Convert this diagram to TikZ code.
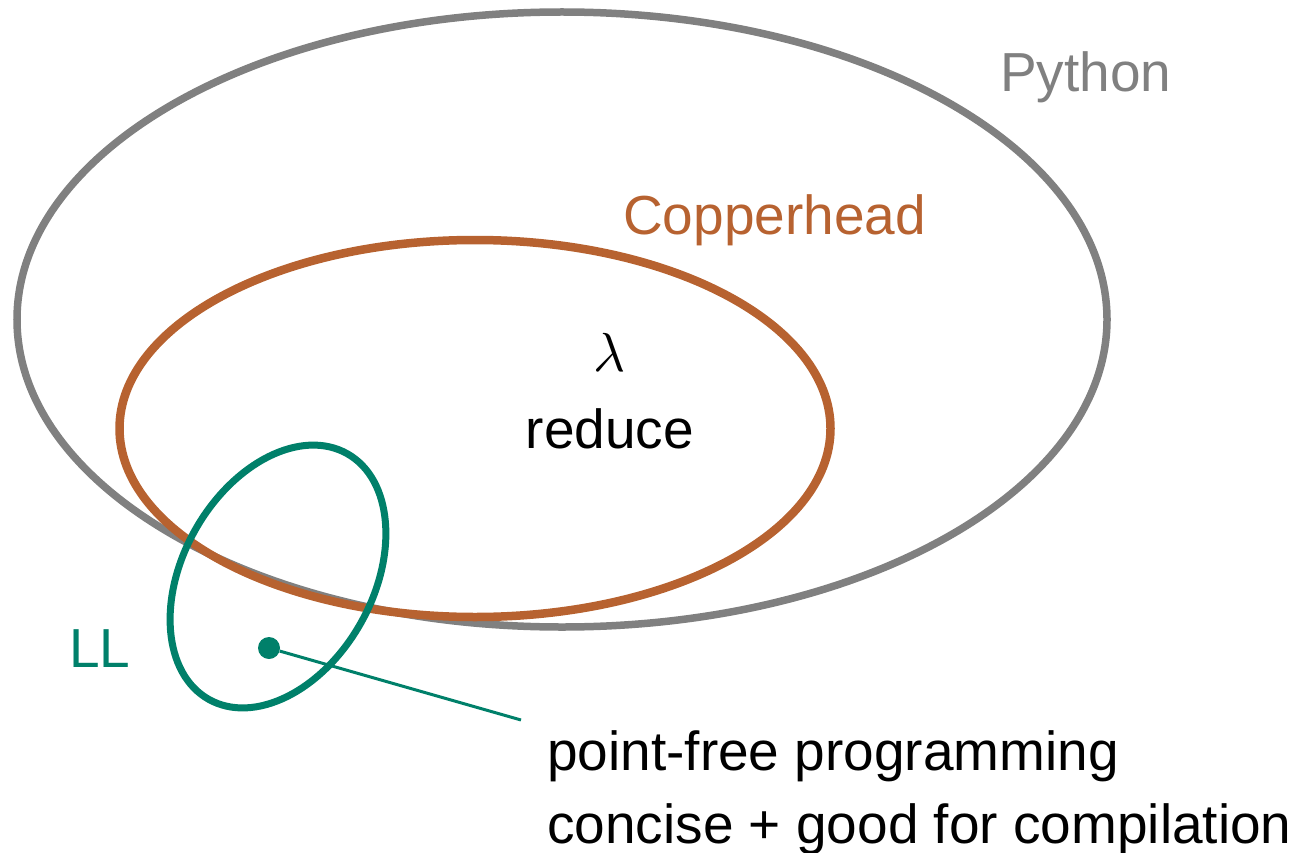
\documentclass[tikz,border=0pt]{standalone}
\usepackage{graphicx}
\usepackage{fontspec}
\setmainfont{Liberation Sans}
\definecolor{pygray}{RGB}{128,128,128}
\definecolor{copper}{RGB}{183,98,48}
\definecolor{llteal}{RGB}{0,128,106}
\begin{document}
\begin{tikzpicture}[x=1pt,y=-1pt,
  lbl/.style={inner sep=0pt, font=\fontsize{55}{60}\selectfont},
]
\useasboundingbox (0,0) rectangle (1297,853);
% Python
\coordinate (pyc) at (562,319.5);
\draw[pygray, line width=7.5pt] (pyc) ellipse [x radius=545pt, y radius=307.5pt];
% Copperhead
\coordinate (cuc) at (475,428.5);
\draw[copper, line width=8.5pt] (cuc) ellipse [x radius=355.5pt, y radius=188.5pt];
% LL
\coordinate (llc) at (278,576.5);
\draw[llteal, line width=7pt, rotate around={60.6:(llc)}] (llc) ellipse [x radius=141pt, y radius=95pt];
% labels
\node[lbl, text=pygray, anchor=base west] (python) at (1000,92) {Python};
\node[lbl, text=copper, anchor=base west] (copperhead) at (623,234) {Copperhead};
\node[inner sep=0pt, anchor=base] (lambda) at (610,371) {\scalebox{5.5}{$\lambda$}};
\node[lbl, anchor=base] (reduce) at (610,448) {reduce};
\node[lbl, text=llteal, anchor=base west] (ll) at (69,667) {LL};
% dot and connector
\node[circle, fill=llteal, inner sep=0pt, minimum size=22pt] (dot) at (269,648) {};
\coordinate (lend) at (521,720);
\draw[llteal, line width=3pt] (dot) -- (lend);
\node[lbl, anchor=base west] (pf) at (547,770) {point-free programming};
\node[lbl, anchor=base west] (cg) at (547,843) {concise + good for compilation};
\end{tikzpicture}
\end{document}
